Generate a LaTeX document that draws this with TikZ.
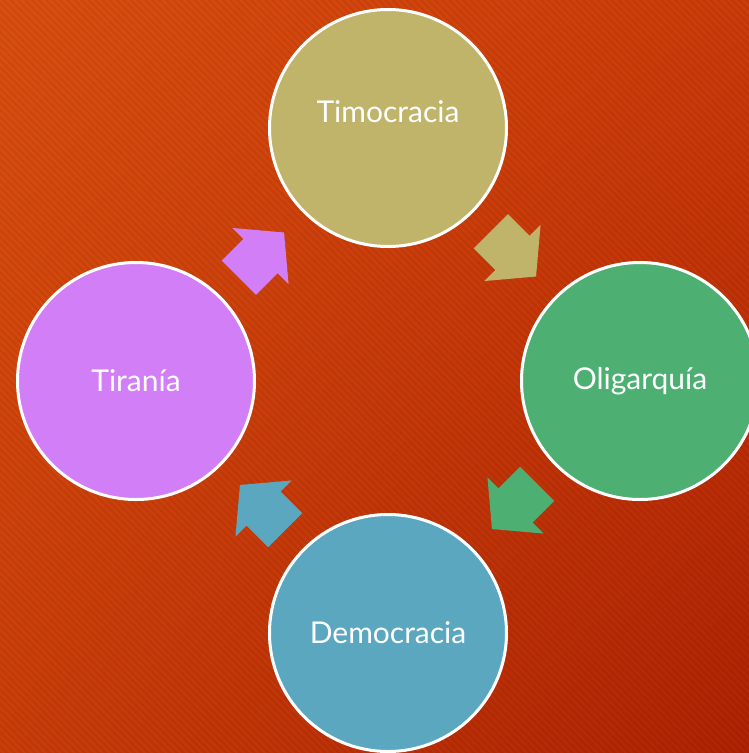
\documentclass[tikz,border=0pt]{standalone}
\usepackage{fontspec}
\setmainfont{Lato}
\usepackage{xcolor}
\usetikzlibrary{shapes, arrows, positioning, calc, shadings, patterns.meta}

\definecolor{bgtl}{RGB}{219,80,16}
\definecolor{bgtr}{RGB}{205,60,10}
\definecolor{bgbl}{RGB}{203,62,10}
\definecolor{bgbr}{RGB}{175,35,4}
\definecolor{timo}{RGB}{192,180,106}
\definecolor{olig}{RGB}{78,175,115}
\definecolor{demo}{RGB}{91,167,192}
\definecolor{tira}{RGB}{209,126,247}

\begin{document}
\begin{tikzpicture}[x=1pt, y=-1pt, every node/.style={font=\fontsize{30}{36}\selectfont, text=white}]
        \tikzset{stage/.style={draw=white, line width=3pt, circle, minimum size=237pt, inner sep=0pt},
                 flow/.style={single arrow, minimum height=64pt, inner xsep=0pt, inner ysep=24pt, single arrow head extend=15.5pt, single arrow tip angle=100}}
        % Background
        \useasboundingbox (0,0) rectangle (749,753);
        \clip (0,0) rectangle (749,753);
        \shade[upper left=bgtl, upper right=bgtr, lower left=bgbl, lower right=bgbr] (0,0) rectangle (749,753);
        \pattern[pattern={Lines[angle=-45, distance=5pt, line width=2.5pt]}, pattern color=black, opacity=0.06] (0,0) rectangle (749,753);
        % Stages
        \node[stage, fill=timo, label={[yshift=16pt]center:Timocracia}] (timo) at (388,128) {};
        \node[stage, fill=olig] (olig) at (640,381) {Oligarquía};
        \node[stage, fill=demo] (demo) at (388,633) {Democracia};
        \node[stage, fill=tira] (tira) at (136,381) {Tiranía};
        % Arrows
        \node[flow, fill=timo, rotate=-45] (a1) at ($(timo)!.5!(olig)!11pt!(timo)$) {};
        \node[flow, fill=olig, rotate=-135] (a2) at ($(olig)!.5!(demo)!11pt!(olig)$) {};
        \node[flow, fill=demo, rotate=135] (a3) at ($(demo)!.5!(tira)!11pt!(demo)$) {};
        \node[flow, fill=tira, rotate=45] (a4) at ($(tira)!.5!(timo)!11pt!(tira)$) {};
    \end{tikzpicture}
\end{document}
